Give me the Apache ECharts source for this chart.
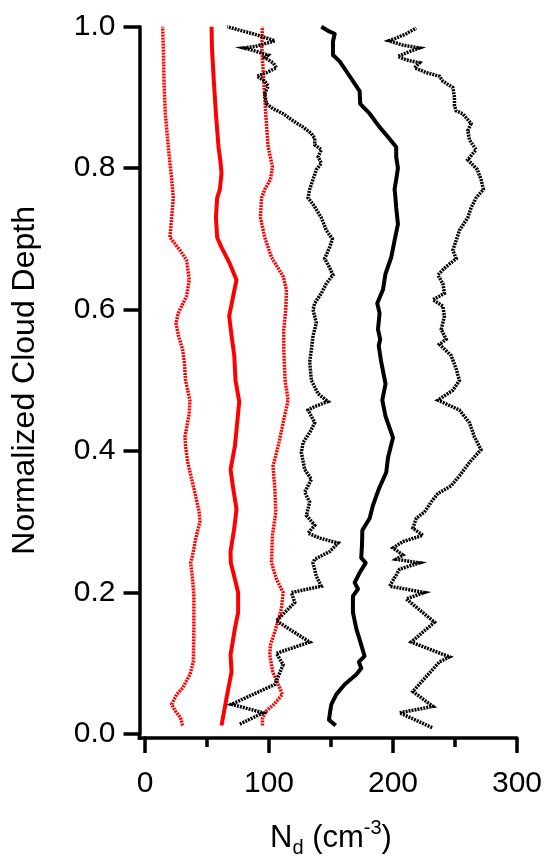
<!DOCTYPE html>
<html>
<head>
<meta charset="utf-8">
<script src="https://cdn.jsdelivr.net/npm/echarts@6/dist/echarts.min.js"></script>
<style>
html,body{margin:0;padding:0;background:#fff;}
#c{width:545px;height:863px;}
</style>
</head>
<body>
<div id="c"></div>
<script>
// Tick values
const xTicks = [0, 100, 200, 300];
const yTicks = [0.0, 0.2, 0.4, 0.6, 0.8, 1.0];

// Red dotted (left)
const redLowDepth = [0.012,0.023,0.033,0.042,0.056,0.065,0.084,0.102,0.149,0.195,0.219,0.242,0.253,0.277,0.300,0.314,0.351,0.384,0.407,0.420,0.453,0.472,0.500,0.526,0.544,0.563,0.581,0.595,0.619,0.642,0.670,0.684,0.702,0.730,0.758,0.784,0.830,0.877,0.923,0.970,1.000];
const redLowNd = [30.3,28.7,24.2,21.5,25.5,30.3,36.2,39.0,39.4,39.4,38.4,36.8,38.4,41.0,44.3,43.7,38.9,34.5,32.7,32.2,35.7,36.2,32.7,31.7,30.3,27.0,25.0,26.8,33.5,35.7,33.5,28.2,20.1,21.5,22.8,21.5,18.8,16.4,15.3,14.8,14.2];

// Red solid (mean)
const redMeanDepth = [0.012,0.056,0.088,0.112,0.149,0.172,0.200,0.219,0.242,0.258,0.291,0.318,0.351,0.374,0.407,0.430,0.470,0.500,0.535,0.563,0.591,0.619,0.642,0.665,0.688,0.702,0.730,0.758,0.770,0.793,0.807,0.830,0.877,0.923,0.970,1.000];
const redMeanNd = [61.7,66.3,69.8,69.0,72.5,75.1,75.1,72.5,69.2,69.0,72.0,73.8,70.8,69.0,72.5,73.8,76.0,73.0,72.0,69.8,67.9,71.1,73.8,68.4,61.7,58.2,57.2,58.2,60.4,61.7,61.0,59.3,57.2,55.5,54.0,53.7];

// Red dotted (right)
const redHighDepth = [0.012,0.023,0.033,0.042,0.056,0.074,0.088,0.112,0.126,0.149,0.177,0.200,0.219,0.242,0.281,0.314,0.347,0.379,0.407,0.444,0.472,0.500,0.544,0.572,0.600,0.628,0.647,0.674,0.702,0.730,0.758,0.770,0.784,0.802,0.830,0.877,0.923,0.970,1.000];
const redHighNd = [94.7,94.7,98.0,104.0,110.8,106.5,103.0,100.6,101.2,105.5,110.0,111.4,106.0,102.0,102.8,105.5,104.7,103.3,107.4,111.9,115.4,113.0,111.9,111.9,113.5,114.1,111.4,102.0,96.6,93.1,94.0,96.6,101.2,102.8,99.3,97.4,95.8,94.2,94.7];

// Black solid (mean)
const blackMeanDepth = [0.012,0.020,0.028,0.042,0.056,0.070,0.084,0.093,0.102,0.110,0.126,0.149,0.172,0.195,0.205,0.214,0.228,0.242,0.249,0.267,0.288,0.305,0.323,0.347,0.370,0.391,0.419,0.449,0.472,0.495,0.526,0.549,0.558,0.572,0.595,0.609,0.628,0.651,0.674,0.698,0.721,0.744,0.758,0.770,0.784,0.800,0.816,0.830,0.844,0.858,0.877,0.891,0.909,0.923,0.937,0.951,0.960,0.979,0.990,0.993,1.000];
const blackMeanNd = [153.8,148.4,149.0,150.3,154.3,161.0,170.4,174.4,172.5,177.1,174.4,170.4,167.7,167.7,171.8,169.1,173.1,178.0,174.4,175.0,175.3,181.2,183.8,188.7,194.6,196.0,200.0,194.0,191.4,194.0,190.5,188.5,189.7,187.9,189.2,187.3,191.9,194.0,198.6,201.3,204.0,202.6,202.0,201.3,202.6,204.0,202.6,202.6,196.0,189.2,181.2,173.6,173.1,167.7,162.4,157.0,151.6,151.6,153.0,149.0,142.2];

// Black dotted (left)
const blackLowDepth = [0.014,0.030,0.042,0.070,0.098,0.114,0.130,0.160,0.186,0.200,0.209,0.223,0.242,0.247,0.258,0.270,0.277,0.284,0.295,0.309,0.328,0.342,0.360,0.374,0.398,0.412,0.426,0.440,0.458,0.463,0.470,0.481,0.500,0.526,0.544,0.563,0.581,0.600,0.609,0.623,0.637,0.649,0.661,0.672,0.688,0.700,0.712,0.730,0.749,0.758,0.770,0.784,0.798,0.807,0.816,0.826,0.833,0.842,0.849,0.858,0.867,0.877,0.884,0.891,0.905,0.916,0.923,0.930,0.935,0.942,0.949,0.956,0.960,0.965,0.970,0.972,0.980,0.984,0.990,0.995,1.000];
const blackLowNd = [76.5,95.3,69.8,104.7,111.4,106.0,132.8,106.0,120.8,118.1,142.2,138.2,135.5,136.9,149.0,155.7,140.9,131.5,136.9,130.2,132.8,128.8,134.2,128.8,126.1,127.5,132.8,136.9,131.5,136.9,147.6,139.6,134.2,132.8,134.2,135.5,138.2,135.5,136.9,142.2,146.3,151.6,148.4,144.9,148.9,151.1,146.3,142.2,135.5,131.5,132.8,135.5,138.2,142.2,139.6,142.2,136.9,136.9,134.2,127.5,119.4,111.4,103.3,98.0,96.6,99.3,96.6,90.4,98.0,106.0,103.3,96.6,99.3,89.9,79.7,89.0,104.7,98.0,87.2,76.5,66.3];

// Black dotted (right)
const blackHighDepth = [0.009,0.030,0.039,0.060,0.102,0.109,0.130,0.158,0.191,0.200,0.209,0.233,0.242,0.247,0.253,0.263,0.272,0.281,0.291,0.305,0.314,0.328,0.340,0.351,0.365,0.384,0.402,0.420,0.440,0.458,0.472,0.486,0.500,0.516,0.535,0.551,0.558,0.572,0.591,0.605,0.614,0.623,0.637,0.649,0.661,0.672,0.684,0.698,0.712,0.730,0.744,0.758,0.770,0.784,0.798,0.812,0.826,0.840,0.853,0.863,0.877,0.881,0.888,0.900,0.914,0.923,0.930,0.935,0.942,0.949,0.953,0.958,0.963,0.970,0.974,0.980,0.984,0.990,0.998];
const blackHighNd = [231.6,205.3,232.2,216.0,237.5,245.6,214.7,233.5,210.7,225.4,197.3,205.3,221.4,202.6,208.0,200.0,208.0,224.1,216.0,218.8,225.4,230.8,236.2,246.9,253.6,261.7,271.0,265.7,261.7,253.6,236.2,248.3,253.6,251.0,246.9,237.5,242.9,238.9,241.5,240.2,232.2,241.5,240.2,236.2,243.0,251.0,248.3,251.0,253.6,260.3,263.0,267.0,273.0,271.0,268.0,260.3,267.0,261.7,260.3,263.0,256.3,251.0,249.6,249.6,248.3,240.2,237.5,226.8,217.4,221.4,210.7,204.0,210.7,221.4,208.0,196.7,202.6,210.7,218.8];

function pairs(nd, depth) { return nd.map((v, i) => [v, depth[i]]); }

const FONT = "'Liberation Sans', Arial, Helvetica, sans-serif";
const chart = echarts.init(document.getElementById('c'), null, {renderer: 'canvas'});

function lineSeries(name, nd, depth, color, width, dashed) {
  return {
    name: name,
    type: 'line',
    data: pairs(nd, depth),
    showSymbol: false,
    symbol: 'none',
    smooth: false,
    animation: false,
    clip: false,
    lineStyle: {color: color, width: width, type: dashed ? [2, 1] : 'solid', cap: 'butt', join: dashed ? 'miter' : 'round'}
  };
}

const AXW = 3.5;
chart.setOption({
  animation: false,
  backgroundColor: '#fff',
  grid: {left: 145, right: 28, top: 26.7, bottom: 119.7, containLabel: false},
  xAxis: {
    type: 'value', min: xTicks[0], max: xTicks[xTicks.length - 1], interval: 100,
    offset: 4,
    axisLine: {show: true, onZero: false, lineStyle: {color: '#000', width: AXW}},
    axisTick: {show: true, inside: false, length: 15, lineStyle: {color: '#000', width: AXW}},
    minorTick: {show: true, splitNumber: 2, length: 9, lineStyle: {color: '#000', width: AXW}},
    splitLine: {show: false},
    axisLabel: {color: '#000', fontSize: 30, fontFamily: FONT, margin: 31},
    name: '{a|N}{b|d}{a| (cm}{c|-3}{a|)}',
    nameLocation: 'middle',
    nameGap: 80,
    nameTextStyle: {
      color: '#000', fontFamily: FONT, fontSize: 31,
      rich: {
        a: {fontSize: 31, fontFamily: FONT, color: '#000', lineHeight: 40},
        b: {fontSize: 20, fontFamily: FONT, color: '#000', lineHeight: 20, verticalAlign: 'bottom'},
        c: {fontSize: 20, fontFamily: FONT, color: '#000', lineHeight: 20, verticalAlign: 'top'}
      }
    }
  },
  yAxis: {
    type: 'value', min: yTicks[0], max: yTicks[yTicks.length - 1], interval: 0.2,
    offset: 5.5,
    axisLine: {show: true, onZero: false, lineStyle: {color: '#000', width: AXW}},
    axisTick: {show: true, inside: false, length: 16, lineStyle: {color: '#000', width: AXW}},
    splitLine: {show: false},
    axisLabel: {color: '#000', fontSize: 30, fontFamily: FONT, margin: 24, formatter: v => v.toFixed(1)},
    name: 'Normalized Cloud Depth',
    nameLocation: 'middle',
    nameGap: 98,
    nameTextStyle: {color: '#000', fontSize: 32, fontFamily: FONT}
  },
  series: [
    lineSeries('redLow', redLowNd, redLowDepth, '#ff0000', 3.5, true),
    lineSeries('redHigh', redHighNd, redHighDepth, '#ff0000', 3.5, true),
    lineSeries('redMean', redMeanNd, redMeanDepth, '#ff0000', 4, false),
    lineSeries('blackMean', blackMeanNd, blackMeanDepth, '#000000', 4, false),
    lineSeries('blackLow', blackLowNd, blackLowDepth, '#000000', 3.5, true),
    lineSeries('blackHigh', blackHighNd, blackHighDepth, '#000000', 3.5, true)
  ]
});

// Close the corner where the offset axes meet
const origin = chart.convertToPixel({gridIndex: 0}, [0, 0]);
const yx = origin[0] - 5.5, xy = origin[1] + 4;
chart.setOption({
  graphic: [
    {type: 'line', shape: {x1: yx, y1: origin[1] - 1, x2: yx, y2: xy + AXW / 2}, style: {stroke: '#000', lineWidth: AXW}},
    {type: 'line', shape: {x1: yx - AXW / 2, y1: xy, x2: origin[0] + 1, y2: xy}, style: {stroke: '#000', lineWidth: AXW}}
  ]
});
</script>
</body>
</html>
